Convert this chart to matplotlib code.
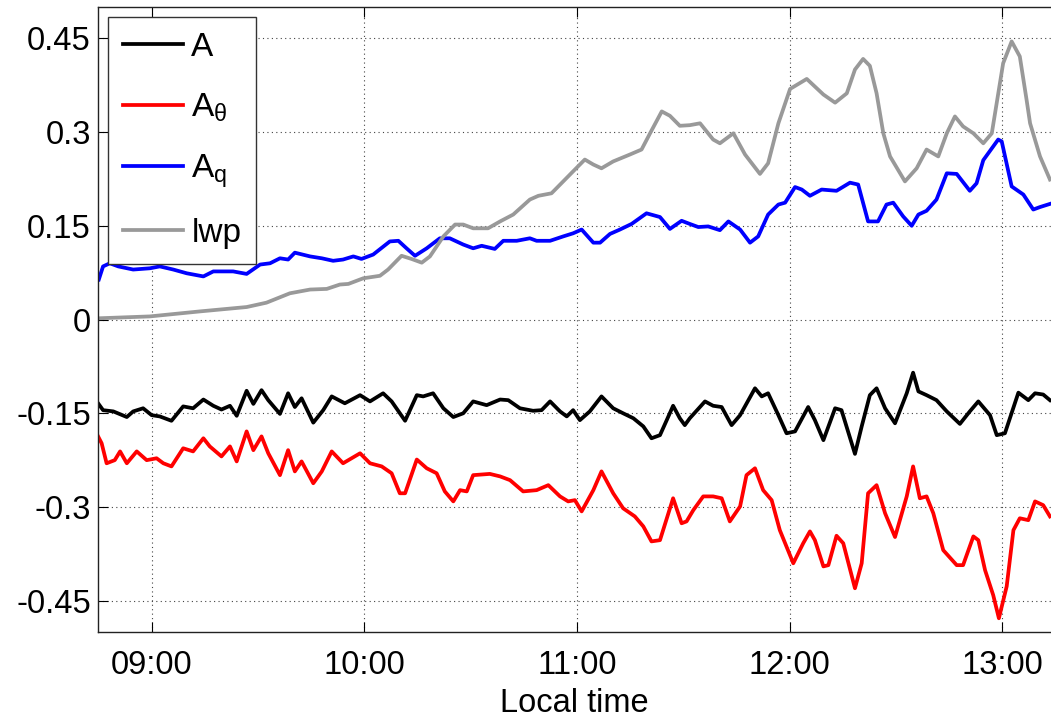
import matplotlib
matplotlib.use('Agg')
import matplotlib.pyplot as plt
from matplotlib.ticker import FuncFormatter, FixedLocator

plt.rcParams['font.family'] = ['Liberation Sans', 'DejaVu Sans']
plt.rcParams['mathtext.fontset'] = 'custom'
plt.rcParams['mathtext.rm'] = 'Liberation Sans'
plt.rcParams['mathtext.it'] = 'Liberation Sans:italic'

# time in minutes after midnight (local time)
a_t = [524.9, 526.3, 529.2, 533.0, 534.8, 537.6, 540.0, 542.3, 545.6, 548.9, 551.7, 554.6, 557.4, 559.7,
       562.1, 564.0, 566.8, 568.7, 571.0, 572.9, 576.2, 578.5, 580.4, 582.3, 585.6, 588.4, 590.8, 594.5,
       598.8, 601.6, 605.3, 607.7, 611.5, 614.8, 616.6, 619.4, 622.3, 625.1, 627.9, 630.7, 634.5, 638.3,
       640.6, 643.9, 647.6, 650.0, 652.4, 655.2, 657.1, 658.9, 660.8, 663.6, 666.9, 670.2, 673.0, 675.9,
       678.7, 681.0, 683.4, 685.3, 687.1, 689.0, 690.4, 691.8, 696.1, 698.4, 700.8, 703.6, 706.0, 710.2,
       712.1, 713.9, 716.8, 719.1, 721.5, 725.2, 727.1, 729.5, 732.8, 734.6, 738.4, 740.3, 742.6, 744.5,
       746.9, 749.7, 753.0, 754.8, 756.3, 758.6, 761.4, 764.3, 768.0, 770.8, 773.2, 776.5, 778.4, 780.7,
       784.5, 787.3, 789.2, 791.5, 793.4]
a_v = [-0.134, -0.145, -0.147, -0.156, -0.147, -0.142, -0.153, -0.155, -0.162, -0.139, -0.142, -0.128,
       -0.138, -0.144, -0.138, -0.154, -0.114, -0.135, -0.113, -0.129, -0.151, -0.118, -0.140, -0.126,
       -0.165, -0.145, -0.123, -0.134, -0.121, -0.131, -0.118, -0.131, -0.162, -0.121, -0.123, -0.118,
       -0.142, -0.156, -0.150, -0.131, -0.137, -0.128, -0.129, -0.142, -0.146, -0.145, -0.131, -0.147,
       -0.155, -0.145, -0.161, -0.147, -0.123, -0.142, -0.150, -0.158, -0.171, -0.190, -0.185, -0.161,
       -0.138, -0.158, -0.169, -0.158, -0.131, -0.138, -0.140, -0.169, -0.153, -0.110, -0.123, -0.118,
       -0.153, -0.182, -0.179, -0.140, -0.161, -0.193, -0.142, -0.145, -0.215, -0.171, -0.121, -0.110,
       -0.142, -0.166, -0.118, -0.085, -0.115, -0.121, -0.129, -0.147, -0.167, -0.147, -0.131, -0.153,
       -0.185, -0.182, -0.117, -0.129, -0.118, -0.120, -0.129]

ath_t = [524.9, 525.9, 527.3, 529.6, 531.1, 533.0, 535.8, 538.6, 541.4, 543.3, 545.6, 548.9, 551.7, 554.6,
         556.4, 559.7, 562.1, 564.0, 566.8, 568.7, 571.0, 572.9, 576.2, 578.5, 580.4, 582.3, 585.6, 588.0,
         590.8, 594.0, 598.8, 601.6, 604.9, 607.7, 610.0, 611.5, 614.8, 617.6, 620.4, 622.7, 625.1, 627.0,
         628.9, 630.7, 635.4, 638.3, 641.1, 644.8, 648.6, 651.9, 655.2, 657.5, 659.4, 661.3, 664.6, 666.9,
         670.2, 673.0, 676.3, 678.7, 681.0, 683.4, 687.1, 689.5, 690.9, 692.8, 695.6, 698.4, 700.8, 703.1,
         706.0, 707.8, 710.2, 712.5, 714.9, 717.2, 721.0, 723.8, 725.7, 727.1, 729.5, 730.9, 733.2, 735.1,
         738.4, 740.3, 742.1, 744.5, 746.9, 749.7, 753.0, 754.8, 756.7, 758.6, 760.5, 763.3, 767.1, 768.9,
         771.8, 773.2, 775.1, 777.4, 779.0, 781.2, 783.1, 784.9, 787.3, 789.2, 791.5, 793.4]
ath_v = [-0.187, -0.198, -0.230, -0.225, -0.211, -0.230, -0.211, -0.225, -0.222, -0.230, -0.235, -0.206,
         -0.211, -0.190, -0.203, -0.219, -0.203, -0.227, -0.179, -0.209, -0.187, -0.214, -0.249, -0.209,
         -0.243, -0.227, -0.262, -0.243, -0.211, -0.230, -0.214, -0.230, -0.235, -0.246, -0.278, -0.278,
         -0.224, -0.238, -0.246, -0.275, -0.291, -0.273, -0.275, -0.249, -0.247, -0.251, -0.257, -0.275,
         -0.273, -0.265, -0.283, -0.291, -0.289, -0.307, -0.273, -0.243, -0.278, -0.302, -0.315, -0.331,
         -0.355, -0.353, -0.286, -0.326, -0.323, -0.305, -0.283, -0.283, -0.286, -0.323, -0.299, -0.249,
         -0.238, -0.273, -0.289, -0.337, -0.390, -0.358, -0.339, -0.353, -0.395, -0.393, -0.346, -0.358,
         -0.430, -0.390, -0.278, -0.265, -0.310, -0.348, -0.283, -0.235, -0.286, -0.283, -0.310, -0.369,
         -0.393, -0.393, -0.347, -0.353, -0.401, -0.441, -0.478, -0.427, -0.337, -0.318, -0.321, -0.291,
         -0.297, -0.315]

aq_t = [525.1, 526.3, 528.2, 530.6, 534.8, 539.5, 542.3, 546.1, 549.9, 554.6, 557.4, 563.0, 566.8, 570.6,
        573.4, 576.2, 578.5, 580.4, 584.7, 588.0, 591.2, 594.0, 596.9, 599.2, 602.5, 607.2, 609.6, 611.9,
        614.3, 617.6, 621.3, 624.1, 627.9, 630.7, 633.1, 636.8, 639.2, 643.0, 646.7, 648.6, 652.4, 656.1,
        658.9, 661.3, 664.6, 666.5, 669.3, 672.1, 675.4, 679.6, 683.4, 686.2, 689.5, 691.8, 694.2, 697.0,
        700.3, 702.7, 706.0, 708.8, 711.1, 713.9, 716.8, 718.7, 721.5, 723.4, 725.7, 729.0, 733.2, 737.0,
        739.3, 742.1, 744.9, 747.3, 749.2, 752.0, 754.4, 756.3, 758.6, 761.4, 764.3, 767.1, 770.8, 772.7,
        774.6, 778.8, 779.8, 782.6, 785.9, 788.7, 790.6, 793.4]
aq_v = [0.064, 0.085, 0.090, 0.085, 0.080, 0.082, 0.085, 0.080, 0.074, 0.069, 0.077, 0.077, 0.073, 0.088,
        0.090, 0.098, 0.096, 0.107, 0.101, 0.098, 0.094, 0.096, 0.101, 0.097, 0.104, 0.125, 0.126, 0.114,
        0.102, 0.114, 0.130, 0.130, 0.120, 0.114, 0.118, 0.113, 0.126, 0.126, 0.130, 0.126, 0.126, 0.133,
        0.138, 0.144, 0.123, 0.123, 0.137, 0.144, 0.153, 0.170, 0.164, 0.145, 0.158, 0.153, 0.148, 0.149,
        0.143, 0.157, 0.144, 0.123, 0.133, 0.168, 0.184, 0.187, 0.212, 0.208, 0.198, 0.208, 0.206, 0.219,
        0.216, 0.157, 0.157, 0.184, 0.187, 0.165, 0.150, 0.168, 0.174, 0.192, 0.234, 0.233, 0.206, 0.218,
        0.255, 0.288, 0.285, 0.213, 0.200, 0.176, 0.180, 0.185]

lwp_t = [525.1, 539.5, 553.6, 566.8, 572.4, 579.0, 584.7, 589.4, 593.1, 595.5, 599.7, 604.4, 606.7, 610.5,
         613.3, 616.2, 618.5, 622.3, 625.6, 627.9, 630.7, 634.9, 638.3, 642.0, 646.7, 649.1, 652.8, 656.1,
         659.4, 662.2, 664.6, 666.9, 670.2, 674.9, 678.2, 680.6, 683.9, 686.2, 689.0, 691.8, 694.7, 698.4,
         700.3, 704.1, 707.4, 711.6, 713.9, 716.8, 720.1, 724.8, 729.5, 732.8, 736.1, 738.4, 740.7, 742.6,
         744.5, 746.4, 748.3, 752.5, 755.8, 758.6, 761.9, 764.3, 766.6, 768.9, 771.8, 774.6, 777.0, 780.2,
         782.6, 784.9, 786.8, 787.8, 790.6, 793.4]
lwp_v = [0.002, 0.005, 0.013, 0.020, 0.027, 0.042, 0.048, 0.049, 0.056, 0.057, 0.066, 0.070, 0.080, 0.102,
         0.097, 0.091, 0.101, 0.133, 0.152, 0.152, 0.146, 0.146, 0.157, 0.168, 0.192, 0.198, 0.202, 0.221,
         0.240, 0.256, 0.248, 0.242, 0.253, 0.264, 0.272, 0.298, 0.333, 0.326, 0.310, 0.311, 0.314, 0.288,
         0.282, 0.298, 0.264, 0.233, 0.250, 0.314, 0.369, 0.385, 0.360, 0.347, 0.362, 0.400, 0.417, 0.406,
         0.362, 0.298, 0.261, 0.221, 0.242, 0.272, 0.261, 0.298, 0.325, 0.309, 0.298, 0.282, 0.298, 0.410,
         0.445, 0.421, 0.352, 0.314, 0.261, 0.224]

x_ticks = [540, 600, 660, 720, 780]
y_ticks = [-0.45, -0.3, -0.15, 0, 0.15, 0.3, 0.45]
y_tick_labels = ['-0.45', '-0.3', '-0.15', '0', '0.15', '0.3', '0.45']
labels = ['A', 'A$_\\mathrm{θ}$', 'A$_\\mathrm{q}$', 'lwp']
colors = ['#000000', '#ff0000', '#0000ff', '#999999']

fig = plt.figure(figsize=(10.51, 7.2), dpi=100)
ax = fig.add_axes([0.093, 0.1222, 0.907, 0.868])

series = [(a_t, a_v), (ath_t, ath_v), (aq_t, aq_v), (lwp_t, lwp_v)]
for (t, v), c, lab in zip(series, colors, labels):
    ax.plot(t, v, color=c, lw=2.7, label=lab, solid_joinstyle='round')

ax.set_xlim(524.8, 793.7)
ax.set_ylim(-0.5, 0.5)
ax.xaxis.set_major_locator(FixedLocator(x_ticks))
ax.xaxis.set_major_formatter(FuncFormatter(lambda m, p: '%02d:%02d' % (int(m // 60), int(m % 60))))
ax.set_yticks(y_ticks)
ax.set_yticklabels(y_tick_labels)

ax.grid(True, color='#444444', linestyle=(0, (1, 3)), linewidth=0.8)
ax.tick_params(direction='in', length=7, width=0.8, labelsize=23.5, top=True, right=False)
ax.tick_params(axis='x', pad=13)
ax.tick_params(axis='y', pad=5)
for s in ['left', 'bottom', 'top']:
    ax.spines[s].set_linewidth(1.0)
    ax.spines[s].set_color('#222222')
ax.spines['right'].set_visible(False)

ax.set_xlabel('Local time', fontsize=23.5, labelpad=5)

leg = ax.legend(loc='upper left', bbox_to_anchor=(0.0108, 0.984), borderaxespad=0,
                fontsize=24, handlelength=1.8, handletextpad=0.25, labelspacing=0.85,
                borderpad=0.45, fancybox=False, framealpha=1, edgecolor='#333333')
leg.get_frame().set_linewidth(1.0)

fig.savefig('out.png', dpi=100)
